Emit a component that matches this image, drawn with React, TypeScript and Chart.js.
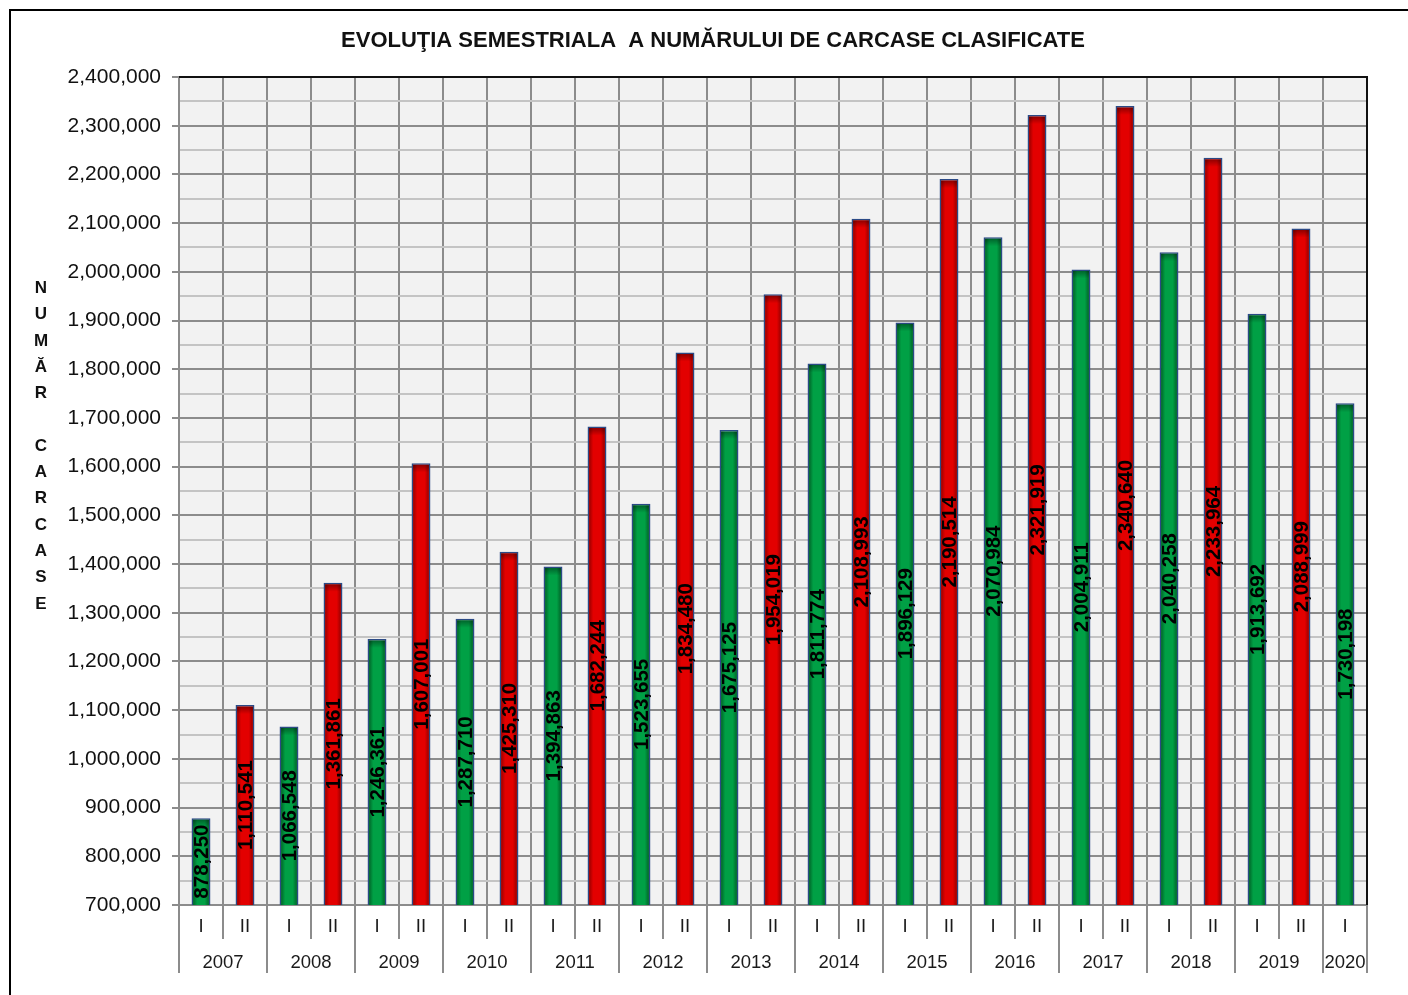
import React, { useEffect, useRef } from 'react';
import { Chart, registerables } from 'chart.js';

Chart.register(...registerables);

const TITLE = 'EVOLUŢIA SEMESTRIALA  A NUMĂRULUI DE CARCASE CLASIFICATE';
const Y_TITLE = 'NUMĂR CARCASE';

const years = ['2007', '2008', '2009', '2010', '2011', '2012', '2013', '2014', '2015', '2016', '2017', '2018', '2019', '2020'];
const semestersPerYear = [2, 2, 2, 2, 2, 2, 2, 2, 2, 2, 2, 2, 2, 1];
const semesterLabels = [
  'I', 'II', 'I', 'II', 'I', 'II', 'I', 'II', 'I', 'II', 'I', 'II', 'I', 'II',
  'I', 'II', 'I', 'II', 'I', 'II', 'I', 'II', 'I', 'II', 'I', 'II', 'I',
];
const values = [
  878250, 1110541, 1066548, 1361861, 1246361, 1607001, 1287710, 1425310, 1394863, 1682244,
  1523655, 1834480, 1675125, 1954019, 1811774, 2108993, 1896129, 2190514, 2070984, 2321919,
  2004911, 2340640, 2040258, 2233964, 1913692, 2088999, 1730198,
];
const yMin = 700000;
const yMax = 2400000;
const yMajorStep = 100000;
const yMinorStep = 50000;

const W = 1408;
const H = 995;
const FONT = '"Liberation Sans", Arial, sans-serif';
const BAR_PCT = 0.43;

const colorsFor = (label: string) =>
  label === 'I' ? { dark: '#00501f', light: '#00a045' } : { dark: '#7e0000', light: '#e30000' };

const fmt = (v: number) => v.toLocaleString('en-US');

const customPlugin = {
  id: 'custom',
  beforeDraw(chart: any) {
    const { ctx, chartArea } = chart;
    ctx.save();
    ctx.fillStyle = '#ffffff';
    ctx.fillRect(0, 0, W, H);
    ctx.fillStyle = '#f2f2f2';
    ctx.fillRect(chartArea.left, chartArea.top, chartArea.right - chartArea.left, chartArea.bottom - chartArea.top);
    ctx.restore();
  },
  afterDatasetsDraw(chart: any) {
    const { ctx, chartArea } = chart;
    const meta = chart.getDatasetMeta(0);
    ctx.save();
    meta.data.forEach((el: any) => {
      const w = el.width;
      const top = el.y;
      const g = ctx.createLinearGradient(0, top, 0, top + 9);
      g.addColorStop(0, 'rgba(0,0,0,0.45)');
      g.addColorStop(1, 'rgba(0,0,0,0)');
      ctx.fillStyle = g;
      ctx.fillRect(el.x - w / 2 + 1.5, top + 1.5, w - 3, 8);
    });
    ctx.restore();
    ctx.save();
    ctx.font = `bold 20.5px ${FONT}`;
    ctx.fillStyle = '#000000';
    ctx.textAlign = 'center';
    ctx.textBaseline = 'middle';
    meta.data.forEach((el: any, i: number) => {
      const base = Math.min(el.base, chartArea.bottom);
      const cy = (el.y + base) / 2;
      ctx.save();
      ctx.translate(el.x + 1, cy);
      ctx.rotate(-Math.PI / 2);
      ctx.fillText(fmt(values[i]), 0, 0);
      ctx.restore();
    });
    ctx.restore();
  },
  afterDraw(chart: any) {
    const { ctx, chartArea } = chart;
    const xs = chart.scales.x;
    ctx.save();
    ctx.strokeStyle = '#000000';
    ctx.lineWidth = 2;
    ctx.strokeRect(10, 10, W + 20, H + 20);
    ctx.strokeStyle = '#111111';
    ctx.lineWidth = 2;
    ctx.beginPath();
    ctx.moveTo(chartArea.left, chartArea.top);
    ctx.lineTo(chartArea.right, chartArea.top);
    ctx.lineTo(chartArea.right, chartArea.bottom);
    ctx.stroke();
    ctx.fillStyle = '#111111';
    ctx.font = `bold 22px ${FONT}`;
    ctx.textAlign = 'center';
    ctx.textBaseline = 'alphabetic';
    ctx.fillText(TITLE, 713, 47);
    ctx.font = `bold 17px ${FONT}`;
    const letters = Array.from(Y_TITLE);
    letters.forEach((ch, i) => {
      if (ch !== ' ') ctx.fillText(ch, 41, 293 + i * 26.3);
    });
    const n = semesterLabels.length;
    const cw = (chartArea.right - chartArea.left) / n;
    ctx.strokeStyle = '#8c8c8c';
    ctx.lineWidth = 2;
    let idx = 0;
    const longBounds = new Set<number>([0]);
    semestersPerYear.forEach((c) => {
      idx += c;
      longBounds.add(idx);
    });
    for (let b = 0; b <= n; b++) {
      const x = chartArea.left + b * cw;
      const yEnd = longBounds.has(b) ? 973 : 939;
      ctx.beginPath();
      ctx.moveTo(x, chartArea.bottom);
      ctx.lineTo(x, yEnd);
      ctx.stroke();
    }
    ctx.fillStyle = '#1a1a1a';
    ctx.font = `18.5px ${FONT}`;
    let start = 0;
    years.forEach((y, k) => {
      const c = semestersPerYear[k];
      const x0 = xs.getPixelForValue(start);
      const x1 = xs.getPixelForValue(start + c - 1);
      ctx.fillText(y, (x0 + x1) / 2, 968);
      start += c;
    });
    ctx.restore();
  },
};

export default function App() {
  const ref = useRef<HTMLCanvasElement | null>(null);
  useEffect(() => {
    if (!ref.current) return;
    const gradient = (c: any) => {
      const label = semesterLabels[c.dataIndex];
      const col = colorsFor(label);
      const chart = c.chart;
      const xs = chart.scales?.x;
      if (!chart.chartArea || !xs) return col.light;
      const cx = xs.getPixelForValue(c.dataIndex);
      const w = ((chart.chartArea.right - chart.chartArea.left) / semesterLabels.length) * BAR_PCT;
      const g = chart.ctx.createLinearGradient(cx - w / 2, 0, cx + w / 2, 0);
      g.addColorStop(0, col.dark);
      g.addColorStop(0.3, col.light);
      g.addColorStop(0.7, col.light);
      g.addColorStop(1, col.dark);
      return g;
    };
    const chart = new Chart(ref.current, {
      type: 'bar',
      data: {
        labels: semesterLabels,
        datasets: [
          {
            data: values,
            backgroundColor: gradient,
            borderColor: '#2b4a86',
            borderWidth: 1.5,
            barPercentage: BAR_PCT,
            categoryPercentage: 1,
          },
        ],
      },
      options: {
        responsive: false,
        animation: false,
        devicePixelRatio: 1,
        layout: { padding: { top: 77, right: 41, bottom: 0, left: 0 } },
        plugins: {
          legend: { display: false },
          title: { display: false },
          tooltip: { enabled: false },
        },
        scales: {
          x: {
            afterFit: (s: any) => {
              s.height = 90;
            },
            grid: { color: '#8c8c8c', lineWidth: 2, drawTicks: false, offset: true },
            border: { color: '#8c8c8c', width: 2 },
            ticks: {
              autoSkip: false,
              maxRotation: 0,
              minRotation: 0,
              padding: 11,
              color: '#1a1a1a',
              font: { family: FONT, size: 18.5 },
            },
          },
          y: {
            min: yMin,
            max: yMax,
            afterFit: (s: any) => {
              s.width = 179;
            },
            grid: {
              color: (c: any) => (c.tick && c.tick.value % yMajorStep === 0 ? '#8c8c8c' : '#c4c4c4'),
              tickColor: (c: any) => (c.tick && c.tick.value % yMajorStep === 0 ? '#8c8c8c' : 'rgba(0,0,0,0)'),
              lineWidth: 2,
              tickLength: 7,
              drawTicks: true,
            },
            border: { color: '#8c8c8c', width: 2 },
            ticks: {
              stepSize: yMinorStep,
              maxTicksLimit: 100,
              autoSkip: false,
              padding: 11,
              color: '#111111',
              font: { family: FONT, size: 21 },
              callback: (v: any) => (Number(v) % yMajorStep === 0 ? fmt(Number(v)) : ''),
            },
          },
        },
      },
      plugins: [customPlugin],
    } as any);
    return () => chart.destroy();
  }, []);
  return (
    <div style={{ position: 'absolute', left: 0, top: 0, width: W, height: H }}>
      <canvas ref={ref} width={W} height={H} style={{ display: 'block' }} />
    </div>
  );
}
